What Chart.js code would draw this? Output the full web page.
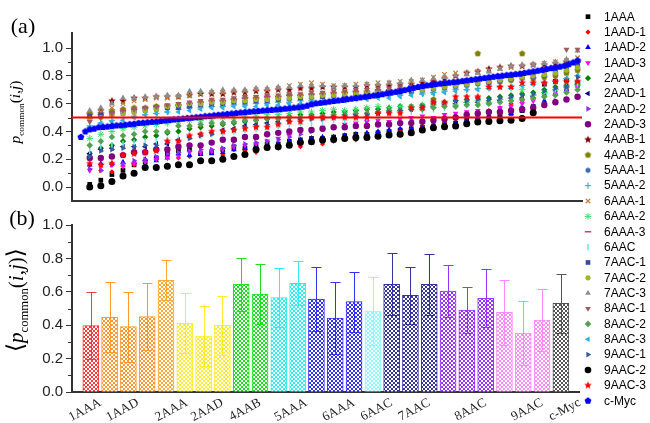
<!DOCTYPE html>
<html lang="en">
<head>
<meta charset="UTF-8">
<title>p_common per pair</title>
<script src="https://cdn.jsdelivr.net/npm/chart.js"></script>
<style>
  body { margin: 0; background: #fff; }
  #wrap { position: relative; width: 650px; height: 423px; }
  #wrap canvas { position: absolute; left: 0; }
  #topChart { top: 0; }
  #barChart { top: 205px; }
</style>
</head>
<body>
<div id="wrap">
  <canvas id="topChart" width="650" height="423"></canvas>
  <canvas id="barChart" width="590" height="218"></canvas>
</div>
<script>
// ---- data ----
const names = ['1AAA','1AAD-1','1AAD-2','1AAD-3','2AAA','2AAD-1','2AAD-2','2AAD-3','4AAB-1','4AAB-2',
  '5AAA-1','5AAA-2','6AAA-1','6AAA-2','6AAA-3','6AAC','7AAC-1','7AAC-2','7AAC-3','8AAC-1','8AAC-2',
  '8AAC-3','9AAC-1','9AAC-2','9AAC-3','c-Myc'];

// pair index of each sampled column in panel (a)
const colIdx = [8,13,18,23,28,33,38,43,48,53, 58,63,68,73,78,83,88,93,98,103,
  108,113,118,123,128,133,138,143,148,153, 158,163,168,173,178,183,188,193,198,203,
  208,213,218,223,228];

const s1AAA  = [0.02,0.05,0.09,0.12,0.16, 0.18,0.21,0.24,0.26,0.27, 0.24,0.25,0.27,0.29,0.28, 0.30,0.31,0.31,0.33,0.34, 0.35,0.35,0.36,0.37,0.38, 0.38,0.39,0.40,0.41,0.42, 0.43,0.44,0.45,0.46,0.48, 0.49,0.50,0.52,0.53,0.55, 0.58,0.74,0.76,0.77,0.75];
const s1AAD1 = [0.16,0.12,0.11,0.15,0.16, 0.19,0.20,0.22,0.21,0.22, 0.24,0.25,0.23,0.27,0.26, 0.25,0.29,0.28,0.30,0.29, 0.32,0.31,0.33,0.35,0.34, 0.36,0.38,0.41,0.40,0.42, 0.44,0.45,0.47,0.49,0.51, 0.53,0.55,0.57,0.60,0.62, 0.64,0.66,0.67,0.70,0.72];
const s1AAD2 = [0.16,0.17,0.17,0.18,0.18, 0.20,0.19,0.21,0.24,0.23, 0.24,0.24,0.25,0.27,0.28, 0.29,0.30,0.31,0.33,0.34, 0.35,0.36,0.36,0.37,0.38, 0.39,0.40,0.41,0.42,0.42, 0.43,0.44,0.45,0.46,0.48, 0.50,0.51,0.52,0.53,0.55, 0.58,0.62,0.67,0.70,0.74];
const s1AAD3 = [0.12,0.15,0.16,0.15,0.17, 0.18,0.20,0.21,0.22,0.25, 0.25,0.26,0.27,0.29,0.30, 0.31,0.33,0.35,0.37,0.40, 0.41,0.43,0.50,0.45,0.46, 0.47,0.48,0.47,0.49,0.50, 0.51,0.50,0.52,0.53,0.54, 0.55,0.54,0.57,0.58,0.60, 0.62,0.67,0.68,0.70,0.72];
const s2AAA  = [0.24,0.28,0.30,0.33,0.34, 0.36,0.37,0.39,0.40,0.42, 0.43,0.44,0.45,0.46,0.47, 0.48,0.49,0.50,0.51,0.52, 0.52,0.53,0.54,0.54,0.55, 0.56,0.56,0.57,0.58,0.58, 0.59,0.60,0.61,0.62,0.63, 0.64,0.64,0.65,0.66,0.67, 0.68,0.70,0.72,0.73,0.75];
const s2AAD1 = [0.24,0.27,0.28,0.29,0.29, 0.29,0.31,0.31,0.34,0.36, 0.38,0.39,0.41,0.42,0.44, 0.45,0.46,0.47,0.48,0.49, 0.50,0.50,0.51,0.52,0.52, 0.53,0.53,0.54,0.55,0.56, 0.57,0.58,0.59,0.60,0.61, 0.61,0.62,0.62,0.64,0.64, 0.65,0.68,0.70,0.72,0.74];
const s2AAD2 = [0.13,0.12,0.16,0.17,0.19, 0.20,0.22,0.24,0.25,0.26, 0.27,0.27,0.28,0.30,0.31, 0.32,0.33,0.34,0.36,0.38, 0.40,0.42,0.43,0.44,0.44, 0.45,0.46,0.46,0.47,0.48, 0.48,0.49,0.50,0.51,0.52, 0.53,0.54,0.55,0.56,0.57, 0.58,0.60,0.62,0.63,0.65];
const s2AAD3 = [0.21,0.21,0.22,0.23,0.25, 0.25,0.27,0.27,0.29,0.30, 0.30,0.32,0.34,0.34,0.36, 0.36,0.38,0.39,0.40,0.41, 0.41,0.42,0.43,0.43,0.44, 0.44,0.45,0.45,0.46,0.46, 0.47,0.48,0.49,0.50,0.52, 0.53,0.54,0.54,0.55,0.56, 0.57,0.59,0.61,0.63,0.65];
const s4AAB1 = [0.52,0.55,0.62,0.62,0.64, 0.64,0.65,0.65,0.65,0.66, 0.67,0.67,0.67,0.68,0.68, 0.69,0.69,0.70,0.70,0.71, 0.71,0.72,0.72,0.72,0.72, 0.73,0.73,0.73,0.74,0.74, 0.75,0.76,0.78,0.80,0.82, 0.83,0.85,0.86,0.87,0.87, 0.88,0.88,0.89,0.90,0.90];
const s4AAB2 = [0.53,0.53,0.55,0.56,0.57, 0.57,0.58,0.58,0.59,0.60, 0.61,0.62,0.62,0.63,0.64, 0.64,0.65,0.65,0.66,0.66, 0.66,0.67,0.67,0.68,0.68, 0.68,0.69,0.69,0.70,0.70, 0.71,0.63,0.72,0.73,0.74, 0.96,0.75,0.76,0.77,0.96, 0.78,0.79,0.80,0.82,0.84];
const s5AAA1 = [0.50,0.52,0.53,0.54,0.55, 0.56,0.57,0.57,0.58,0.58, 0.59,0.60,0.60,0.61,0.61, 0.62,0.62,0.63,0.63,0.64, 0.64,0.65,0.65,0.65,0.66, 0.66,0.67,0.67,0.68,0.68, 0.69,0.70,0.71,0.72,0.73, 0.74,0.75,0.76,0.77,0.78, 0.79,0.80,0.82,0.84,0.86];
const s5AAA2 = [0.44,0.46,0.48,0.50,0.51, 0.52,0.53,0.54,0.56,0.57, 0.57,0.58,0.58,0.59,0.59, 0.60,0.60,0.61,0.61,0.62, 0.62,0.62,0.63,0.63,0.64, 0.64,0.65,0.66,0.66,0.73, 0.67,0.68,0.69,0.70,0.70, 0.71,0.71,0.72,0.71,0.73, 0.74,0.75,0.76,0.78,0.80];
const s6AAA1 = [0.51,0.54,0.57,0.60,0.62, 0.63,0.64,0.64,0.65,0.66, 0.67,0.68,0.68,0.69,0.69, 0.70,0.70,0.71,0.73,0.74, 0.75,0.74,0.73,0.73,0.74, 0.74,0.75,0.75,0.76,0.76, 0.77,0.79,0.81,0.82,0.82, 0.83,0.84,0.85,0.86,0.87, 0.88,0.89,0.90,0.91,0.93];
const s6AAA2 = [0.35,0.38,0.40,0.42,0.43, 0.44,0.45,0.46,0.47,0.48, 0.48,0.49,0.50,0.50,0.51, 0.51,0.52,0.52,0.53,0.54, 0.54,0.55,0.56,0.55,0.56, 0.57,0.58,0.57,0.58,0.58, 0.59,0.59,0.60,0.59,0.61, 0.62,0.61,0.63,0.64,0.70, 0.66,0.68,0.70,0.72,0.74];
const s6AAA3 = [0.50,0.52,0.54,0.55,0.56, 0.57,0.58,0.59,0.59,0.60, 0.61,0.62,0.62,0.63,0.64, 0.64,0.65,0.65,0.66,0.66, 0.67,0.67,0.68,0.68,0.69, 0.69,0.70,0.70,0.71,0.71, 0.72,0.73,0.74,0.75,0.76, 0.77,0.78,0.79,0.80,0.81, 0.82,0.84,0.86,0.88,0.90];
const s6AAC  = [0.26,0.29,0.30,0.31,0.32, 0.33,0.33,0.34,0.35,0.36, 0.37,0.38,0.39,0.40,0.41, 0.42,0.43,0.44,0.45,0.46, 0.46,0.47,0.48,0.48,0.49, 0.50,0.51,0.52,0.53,0.54, 0.55,0.56,0.57,0.58,0.59, 0.60,0.61,0.62,0.63,0.64, 0.65,0.67,0.69,0.71,0.73];
const s7AAC1 = [0.51,0.52,0.52,0.53,0.54, 0.55,0.56,0.57,0.57,0.58, 0.59,0.59,0.60,0.61,0.61, 0.62,0.62,0.63,0.64,0.64, 0.65,0.65,0.66,0.66,0.67, 0.67,0.68,0.68,0.69,0.69, 0.70,0.71,0.72,0.73,0.74, 0.75,0.76,0.77,0.78,0.79, 0.80,0.81,0.83,0.85,0.87];
const s7AAC2 = [0.49,0.50,0.52,0.53,0.54, 0.55,0.56,0.58,0.59,0.60, 0.60,0.61,0.61,0.62,0.62, 0.63,0.63,0.64,0.64,0.65, 0.65,0.66,0.66,0.67,0.67, 0.68,0.68,0.69,0.69,0.70, 0.70,0.71,0.72,0.73,0.74, 0.75,0.76,0.77,0.78,0.79, 0.80,0.81,0.82,0.84,0.86];
const s7AAC3 = [0.55,0.57,0.60,0.64,0.64, 0.65,0.65,0.66,0.66,0.69, 0.69,0.69,0.70,0.70,0.70, 0.71,0.71,0.72,0.72,0.73, 0.73,0.73,0.72,0.73,0.73, 0.74,0.74,0.75,0.75,0.77, 0.77,0.78,0.79,0.80,0.81, 0.82,0.83,0.85,0.87,0.88, 0.88,0.89,0.90,0.92,0.98];
const s8AAC1 = [0.47,0.50,0.53,0.55,0.56, 0.57,0.58,0.59,0.60,0.61, 0.62,0.63,0.63,0.64,0.65, 0.65,0.66,0.66,0.67,0.67, 0.68,0.68,0.69,0.69,0.70, 0.70,0.71,0.71,0.72,0.72, 0.73,0.74,0.75,0.76,0.77, 0.78,0.79,0.80,0.81,0.82, 0.83,0.84,0.86,0.99,0.99];
const s8AAC2 = [0.30,0.33,0.36,0.37,0.38, 0.40,0.40,0.40,0.44,0.44, 0.45,0.46,0.46,0.47,0.48, 0.48,0.49,0.49,0.50,0.50, 0.51,0.51,0.52,0.52,0.53, 0.53,0.54,0.55,0.55,0.56, 0.56,0.57,0.58,0.58,0.59, 0.59,0.60,0.61,0.62,0.63, 0.64,0.65,0.66,0.68,0.70];
const s8AAC3 = [0.43,0.46,0.47,0.48,0.50, 0.52,0.53,0.54,0.54,0.55, 0.56,0.57,0.57,0.58,0.58, 0.58,0.59,0.59,0.60,0.60, 0.61,0.61,0.62,0.62,0.63, 0.63,0.64,0.64,0.65,0.66, 0.67,0.67,0.68,0.69,0.70, 0.70,0.71,0.72,0.72,0.73, 0.74,0.75,0.76,0.78,0.80];
const s9AAC1 = [0.22,0.26,0.27,0.28,0.29, 0.30,0.30,0.32,0.33,0.35, 0.37,0.38,0.40,0.41,0.43, 0.44,0.45,0.46,0.47,0.48, 0.49,0.49,0.50,0.51,0.51, 0.52,0.53,0.54,0.55,0.56, 0.58,0.61,0.61,0.62,0.62, 0.63,0.63,0.64,0.65,0.66, 0.67,0.69,0.71,0.72,0.79];
const s9AAC2 = [0.00,0.01,0.04,0.08,0.10, 0.14,0.14,0.15,0.16,0.16, 0.19,0.19,0.20,0.22,0.235, 0.27,0.285,0.29,0.30,0.32, 0.326,0.338,0.343,0.35,0.357, 0.357,0.365,0.374,0.38,0.39, 0.41,0.427,0.434,0.44,0.456, 0.468,0.472,0.477,0.48,0.494, 0.535,null,null,null,null];
const s9AAC3 = [0.17,0.16,0.17,0.23,0.24, 0.25,0.26,0.33,0.33,0.37, 0.38,0.40,0.40,0.41,0.42, 0.43,0.43,0.45,0.47,0.47, 0.50,0.50,0.50,0.50,0.50, 0.50,0.53,0.53,0.53,0.57, 0.57,0.61,0.61,0.65,0.65, 0.65,0.72,0.72,0.72,0.75, 0.75,0.75,0.76,0.76,0.76];

// c-Myc is sampled at every second pair index, starting at index 4
const cMyc = [0.36,0.40,0.415,0.42,0.43,0.432,0.435,0.44,0.443,0.445,
  0.448,0.452,0.455,0.46,0.463,0.466,0.469,0.472,0.475,0.479,
  0.482,0.486,0.489,0.492,0.496,0.499,0.502,0.505,0.509,0.512,
  0.516,0.519,0.522,0.526,0.529,0.532,0.536,0.539,0.542,0.545,
  0.547,0.55,0.553,0.555,0.558,0.56,0.564,0.567,0.571,0.574,
  0.578,0.585,0.595,0.602,0.606,0.61,0.615,0.619,0.623,0.627,
  0.632,0.636,0.641,0.645,0.65,0.654,0.659,0.663,0.668,0.674,
  0.68,0.685,0.69,0.697,0.705,0.713,0.72,0.727,0.731,0.735,
  0.74,0.744,0.748,0.751,0.755,0.758,0.762,0.767,0.771,0.775,
  0.78,0.784,0.789,0.793,0.798,0.801,0.805,0.808,0.812,0.815,
  0.821,0.826,0.832,0.837,0.843,0.849,0.855,0.86,0.866,0.873,
  0.883,0.896,0.91];
const cMycIdx = cMyc.map((_, i) => 4 + 2 * i);
const threshold = 0.5;

// panel (b): mean and standard deviation per structure
const barMean = [0.397,0.447,0.391,0.451,0.669,0.411,0.335,0.399,0.645,0.587,0.565,0.651,0.557,
  0.443,0.541,0.485,0.645,0.579,0.645,0.605,0.491,0.561,0.477,0.353,0.431,0.531];
const barErr = [0.200,0.210,0.210,0.200,0.120,0.180,0.180,0.175,0.157,0.178,0.175,0.131,0.190,
  0.214,0.180,0.202,0.185,0.169,0.181,0.155,0.136,0.174,0.195,0.192,0.184,0.176];
const groupLabels = ['1AAA','1AAD','2AAA','2AAD','4AAB','5AAA','6AAA','6AAC','7AAC','8AAC','9AAC','c-Myc'];
const groupTickPos = [1.5,3.5,6.1,8,10,12.45,15,17,19,22,25,27];
const yTicks = [0,0.2,0.4,0.6,0.8,1.0];
const minorVals = [0.1,0.3,0.5,0.7,0.9];

// ---- styles ----
const SANS = "'Liberation Sans', Arial, sans-serif";
const SERIF = "'Liberation Serif', 'Times New Roman', serif";

function shapeImg(kind, color, r) {
  const s = Math.ceil(r * 2 + 2);
  const c = document.createElement('canvas');
  c.width = c.height = s;
  const g = c.getContext('2d');
  const n = kind === 'star' ? 10 : (kind === 'pent' ? 5 : 6);
  g.fillStyle = color;
  g.beginPath();
  for (let i = 0; i < n; i++) {
    const a = -Math.PI / 2 + i * 2 * Math.PI / n;
    const rr = (kind === 'star' && i % 2) ? r * 0.45 : r;
    const px = s / 2 + rr * Math.cos(a), py = s / 2 + rr * Math.sin(a);
    if (i) g.lineTo(px, py); else g.moveTo(px, py);
  }
  g.closePath();
  g.fill();
  return c;
}

// [pointStyle, color, radius, rotation, borderWidth]
const markers = [
  ['rect', '#000000', 3.3, 0, 0],
  ['rectRot', '#ff0000', 2.6, 0, 0],
  ['triangle', '#0000ff', 3.3, 0, 0],
  ['triangle', '#ff00ff', 3.3, 180, 0],
  ['rectRot', '#008000', 3.1, 0, 0],
  ['triangle', '#000080', 3.3, -90, 0],
  ['triangle', '#8b2cf0', 3.3, 90, 0],
  ['circle', '#800080', 3.2, 0, 0],
  [shapeImg('star', '#800000', 4), '#800000', 4, 0, 0],
  [shapeImg('pent', '#808000', 3.3), '#808000', 3.3, 0, 0],
  [shapeImg('hex', '#3b6db5', 2.8), '#3b6db5', 2.8, 0, 0],
  ['cross', '#2aa7a7', 3.2, 0, 1],
  ['crossRot', '#c08040', 3.2, 0, 1.2],
  ['star', '#3ee06a', 3.4, 0, 1],
  ['line', '#c2417f', 3.2, 0, 1.5],
  ['line', '#6fe3e3', 3.2, 90, 1.5],
  ['rect', '#3a48a0', 3.3, 0, 0],
  ['circle', '#a2b526', 2.6, 0, 0],
  ['triangle', '#8c8c8c', 3.5, 0, 0],
  ['triangle', '#9e5c5c', 3.5, 180, 0],
  ['rectRot', '#55a055', 3.3, 0, 0],
  ['triangle', '#2fb0e0', 3.3, -90, 0],
  ['triangle', '#2d5f9e', 3.3, 90, 0],
  ['circle', '#000000', 3.5, 0, 0],
  [shapeImg('star', '#ff0000', 4), '#ff0000', 4, 0, 0],
  [shapeImg('pent', '#0000ff', 3.6), '#0000ff', 3.6, 0, 0]
];

const barColors = ['#ff3b3b','#ff9933','#ff9933','#ff9933','#ffaa3a','#ffee30','#ffee30','#ffee30',
  '#22dd22','#22dd22','#33eeee','#33eeee','#3434ee','#3434ee','#3434ee','#8ffcfc',
  '#35359c','#35359c','#35359c','#9933ff','#9933ff','#9933ff','#ff8cff','#ff8cff','#ff8cff','#555555'];

// ---- helpers ----
function minorTicks(chart) {
  const y = chart.scales.y, ctx = chart.ctx, x0 = chart.chartArea.left;
  ctx.save();
  ctx.strokeStyle = '#333';
  ctx.lineWidth = 1;
  minorVals.forEach(v => {
    const py = Math.round(y.getPixelForValue(v)) + 0.5;
    ctx.beginPath();
    ctx.moveTo(x0 - 4, py);
    ctx.lineTo(x0, py);
    ctx.stroke();
  });
  ctx.restore();
}

// vertical axis title made of pieces (italic p, subscript, etc.)
function vTitle(ctx, parts, cx, cy, target) {
  ctx.save();
  ctx.translate(cx, cy);
  ctx.rotate(-Math.PI / 2);
  let total = 0;
  parts.forEach(p => { ctx.font = p.f(20); total += ctx.measureText(p.t).width; });
  const k = target / total;
  let x = -target / 2;
  ctx.fillStyle = '#000';
  ctx.textBaseline = 'alphabetic';
  parts.forEach(p => {
    ctx.font = p.f(20 * k);
    ctx.fillText(p.t, x, (p.dy || 0) * k);
    x += ctx.measureText(p.t).width;
  });
  ctx.restore();
}
const it = s => `italic ${s}px ${SERIF}`;
const rm = s => `${s}px ${SERIF}`;
const sub = s => `${s * 0.6}px ${SERIF}`;
const br = s => `${s * 1.1}px 'DejaVu Sans', ${SERIF}`;
const pcommon = [
  {t: 'p', f: it}, {t: 'common', f: sub, dy: 5},
  {t: '(', f: rm}, {t: 'i', f: it}, {t: ',', f: rm}, {t: 'j', f: it}, {t: ')', f: rm}
];

// ---- panel (a) ----
const seriesVals = [s1AAA,s1AAD1,s1AAD2,s1AAD3,s2AAA,s2AAD1,s2AAD2,s2AAD3,s4AAB1,s4AAB2,s5AAA1,s5AAA2,
  s6AAA1,s6AAA2,s6AAA3,s6AAC,s7AAC1,s7AAC2,s7AAC3,s8AAC1,s8AAC2,s8AAC3,s9AAC1,s9AAC2,s9AAC3,cMyc];

const seriesSets = seriesVals.map((vals, i) => {
  const m = markers[i];
  const xs = i === 25 ? cMycIdx : colIdx;
  return {
    label: names[i],
    data: vals.map((v, k) => ({x: xs[k], y: v})).filter(p => p.y !== null),
    pointStyle: m[0],
    backgroundColor: m[1],
    borderColor: m[1],
    pointRadius: m[2],
    pointRotation: m[3],
    borderWidth: m[4],
    order: 26 - i
  };
});

const topDecor = {
  id: 'topDecor',
  afterDraw(chart) {
    const ctx = chart.ctx;
    minorTicks(chart);
    ctx.save();
    ctx.fillStyle = '#000';
    ctx.font = `22px ${SERIF}`;
    ctx.textAlign = 'center';
    ctx.textBaseline = 'middle';
    ctx.fillText('(a)', 23, 27);
    ctx.restore();
    vTitle(ctx, pcommon, 20, 112, 63);
    // legend for all series, right column
    ctx.save();
    seriesSets.forEach((ds, i) => {
      const y = 16.7 + 15.36 * i;
      ctx.fillStyle = ds.backgroundColor;
      ctx.strokeStyle = ds.borderColor;
      ctx.lineWidth = ds.borderWidth;
      Chart.helpers.drawPoint(ctx, {
        pointStyle: ds.pointStyle, rotation: ds.pointRotation,
        radius: Math.min(ds.pointRadius, 3.3), borderWidth: ds.borderWidth
      }, 588, y);
      ctx.fillStyle = '#000';
      ctx.font = `12px ${SANS}`;
      ctx.textAlign = 'left';
      ctx.textBaseline = 'middle';
      ctx.fillText(ds.label, 604, y + 0.5);
    });
    ctx.restore();
  }
};

const yAxisCommon = {
  afterBuildTicks: s => { s.ticks = yTicks.map(v => ({value: v})); },
  ticks: { font: {family: SANS, size: 15}, color: '#222', padding: 3, callback: v => v.toFixed(1) },
  grid: { drawOnChartArea: false, drawTicks: true, tickLength: 6, color: '#333', tickColor: '#333' },
  border: { color: '#333', width: 2 },
  afterFit: s => { s.width = 72; }
};

new Chart(document.getElementById('topChart'), {
  type: 'scatter',
  data: {
    datasets: [{
      label: 'threshold',
      data: [{x: 0, y: threshold}, {x: 230, y: threshold}],
      showLine: true,
      borderColor: '#ff0000',
      borderWidth: 2,
      pointRadius: 0,
      order: 0
    }].concat(seriesSets)
  },
  options: {
    responsive: false,
    animation: false,
    events: [],
    layout: { padding: {left: 0, right: 68, top: 33, bottom: 0} },
    plugins: { legend: {display: false}, tooltip: {enabled: false} },
    scales: {
      x: {
        type: 'linear', min: 0, max: 230,
        ticks: {display: false},
        grid: {display: false},
        border: {color: '#333', width: 2},
        afterFit: s => { s.height = 222; }
      },
      y: Object.assign({min: -0.1, max: 1.108}, yAxisCommon)
    }
  },
  plugins: [topDecor]
});

// ---- panel (b) ----
const barCanvas = document.getElementById('barChart');
const barCtx = barCanvas.getContext('2d');
function hatch(color) {
  const c = document.createElement('canvas');
  c.width = c.height = 4;
  const g = c.getContext('2d');
  g.fillStyle = '#fff';
  g.fillRect(0, 0, 4, 4);
  g.strokeStyle = color;
  g.lineWidth = 1;
  g.beginPath();
  g.moveTo(0, 0); g.lineTo(4, 4);
  g.moveTo(4, 0); g.lineTo(0, 4);
  g.stroke();
  return barCtx.createPattern(c, 'repeat');
}

const barDecor = {
  id: 'barDecor',
  afterDatasetsDraw(chart) {
    const ctx = chart.ctx, y = chart.scales.y;
    const meta = chart.getDatasetMeta(0);
    ctx.save();
    ctx.lineWidth = 1;
    meta.data.forEach((bar, i) => {
      const x = Math.round(bar.x) + 0.5;
      const yt = Math.round(y.getPixelForValue(barMean[i] + barErr[i])) + 0.5;
      const yb = Math.round(y.getPixelForValue(barMean[i] - barErr[i])) + 0.5;
      ctx.strokeStyle = barColors[i];
      ctx.beginPath();
      ctx.moveTo(x, yt); ctx.lineTo(x, yb);
      ctx.moveTo(x - 5, yt); ctx.lineTo(x + 5, yt);
      ctx.moveTo(x - 5, yb); ctx.lineTo(x + 5, yb);
      ctx.stroke();
    });
    ctx.restore();
  },
  afterDraw(chart) {
    const ctx = chart.ctx;
    minorTicks(chart);
    ctx.save();
    ctx.fillStyle = '#000';
    ctx.font = `22px ${SERIF}`;
    ctx.textAlign = 'center';
    ctx.textBaseline = 'middle';
    ctx.fillText('(b)', 22, 14);
    ctx.restore();
    vTitle(ctx, [{t: '\u27E8', f: br}].concat(pcommon, [{t: '\u27E9', f: br}]), 23, 95, 104);
  }
};

new Chart(barCanvas, {
  type: 'bar',
  data: {
    datasets: [{
      label: 'mean',
      data: barMean.map((v, i) => ({x: i + 1, y: v})),
      backgroundColor: barColors.map(hatch),
      borderColor: barColors,
      borderWidth: 1,
      barThickness: 16
    }]
  },
  options: {
    responsive: false,
    animation: false,
    events: [],
    layout: { padding: {left: 0, right: 8, top: 20, bottom: 0} },
    plugins: { legend: {display: false}, tooltip: {enabled: false} },
    scales: {
      x: {
        type: 'linear', min: 0, max: 27, offset: false,
        afterBuildTicks: s => { s.ticks = groupTickPos.map(v => ({value: v})); },
        ticks: {
          autoSkip: false, minRotation: 28, maxRotation: 28, padding: 3,
          font: {family: SERIF, size: 13}, color: '#222',
          callback: (v, i) => groupLabels[i]
        },
        grid: {display: false, drawTicks: false},
        border: {color: '#333', width: 2},
        afterFit: s => { s.height = 31; }
      },
      y: Object.assign({min: 0, max: 1.0}, yAxisCommon)
    }
  },
  plugins: [barDecor]
});
</script>
</body>
</html>
